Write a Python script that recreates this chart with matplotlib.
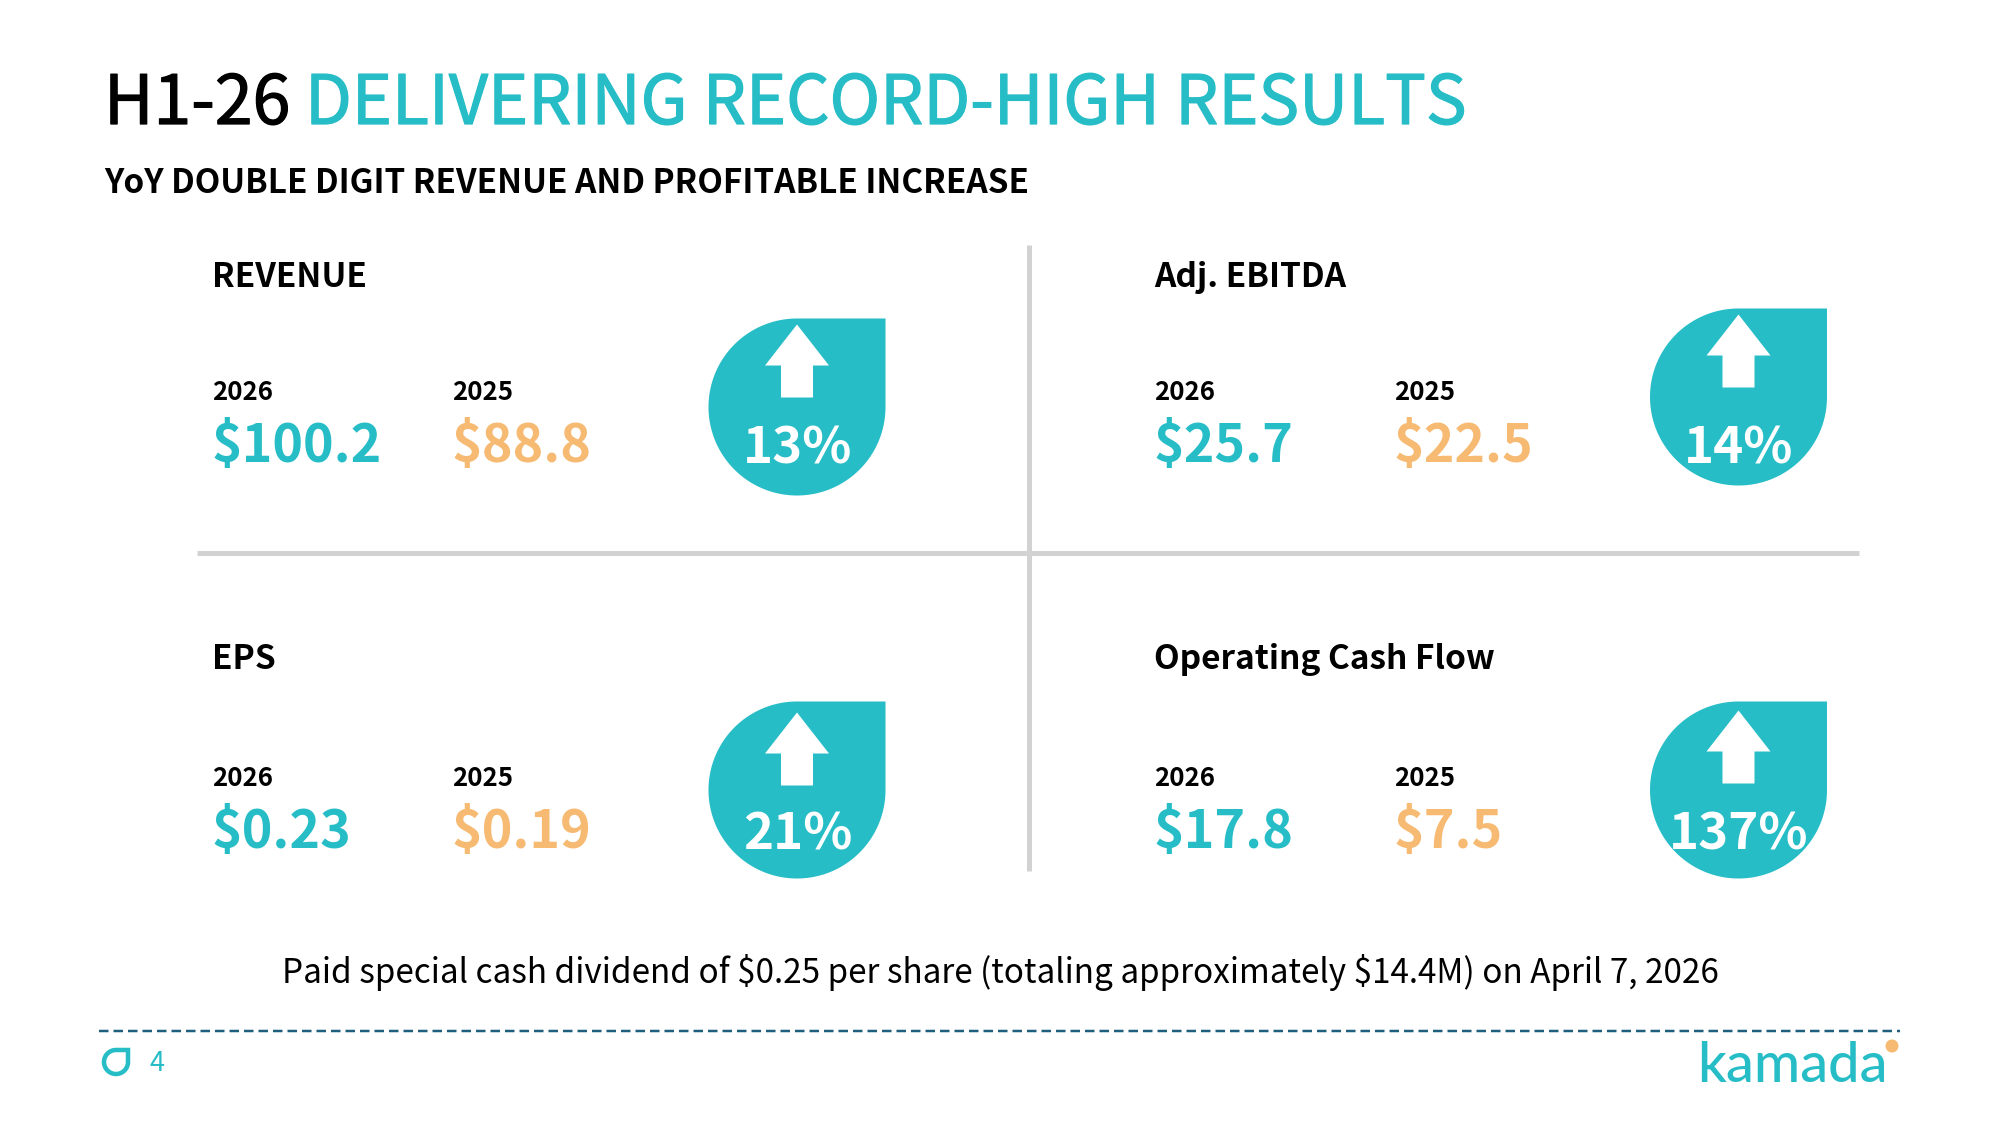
import numpy as np
import matplotlib
matplotlib.use("Agg")
import matplotlib.pyplot as plt
import matplotlib.patheffects as pe
from matplotlib.patches import Polygon, Circle

FONT = ['Noto Sans CJK SC', 'DejaVu Sans']
plt.rcParams['font.family'] = FONT

metrics = ["REVENUE", "Adj. EBITDA", "EPS", "Operating Cash Flow"]
values_2026 = ["$100.2", "$25.7", "$0.23", "$17.8"]
values_2025 = ["$88.8", "$22.5", "$0.19", "$7.5"]
growth = ["13%", "14%", "21%", "137%"]
years = ["2026", "2025"]

TEAL = "#26BDC7"
ORANGE = "#F6BA72"
BLACK = "#000000"
GREY = "#D2D2D2"
DASH = "#1F5F7E"

# layout, in reference pixels: label baseline, year baseline, value baseline
col_x = [(212, 452), (1154, 1394), (212, 452), (1154, 1394)]
row_y = [(287, 400, 462), (287, 400, 462), (669, 786, 848), (669, 786, 848)]
drop = [(797, 407), (1738.5, 397), (797, 790), (1738.5, 790)]
drop_text_x = [798, 1739, 798, 1739]
arrow_dy = [0, 0, 5, 3]

px = 0.72
fig = plt.figure(figsize=(20, 11.25), dpi=100, facecolor="white")
ax = fig.add_axes([0, 0, 1, 1])
ax.set_xlim(0, 2000)
ax.set_ylim(1125, 0)
ax.axis("off")


def txt(x, y, s, size_px, color=BLACK, weight="normal", ha="left", **kw):
    return ax.text(x, y, s, fontsize=size_px * px, color=color, fontweight=weight,
                   ha=ha, va="baseline", family=kw.pop("family", FONT),
                   parse_math=False, **kw)


def thick(color, w):
    return [pe.withStroke(linewidth=w, foreground=color)]


def teardrop(cx, cy, r, **kw):
    t = np.linspace(0, 1.5 * np.pi, 240)
    pts = np.column_stack([cx + r * np.cos(t), cy + r * np.sin(t)])
    pts = np.vstack([pts, [cx + r, cy - r]])
    p = Polygon(pts, closed=True, **kw)
    ax.add_patch(p)


# header
txt(104, 124, "H1-26", 68, path_effects=thick(BLACK, 0.9))
txt(305, 124, "DELIVERING RECORD-HIGH RESULTS", 68.1, TEAL, path_effects=thick(TEAL, 0.9))
txt(104, 193, "YoY DOUBLE DIGIT REVENUE AND PROFITABLE INCREASE", 33.3, weight="bold")

# separators
ax.plot([1029, 1029], [245, 871], color=GREY, lw=5 * px, solid_capstyle="butt")
ax.plot([197, 1859], [553, 553], color=GREY, lw=5 * px, solid_capstyle="butt")

# panels
for i, name in enumerate(metrics):
    x1, x2 = col_x[i]
    y0, y1, y2 = row_y[i]
    txt(x1, y0, name, 33.4, weight="bold")
    txt(x1, y1, years[0], 25.8, weight="bold")
    txt(x2, y1, years[1], 25.8, weight="bold")
    txt(x1, y2, values_2026[i], 52, TEAL, weight="bold")
    txt(x2, y2, values_2025[i], 52, ORANGE, weight="bold")

    cx, cy = drop[i]
    teardrop(cx, cy, 88.5, facecolor=TEAL, edgecolor="none")
    top = cy - 88.5 + arrow_dy[i]
    ax.add_patch(Polygon([(cx, top + 6), (cx + 32, top + 47), (cx + 16, top + 47),
                          (cx + 16, top + 79), (cx - 16, top + 79), (cx - 16, top + 47),
                          (cx - 32, top + 47)], closed=True, facecolor="white", edgecolor="none"))
    txt(drop_text_x[i], y2 + 1, growth[i], 51, "white", weight="bold", ha="center")

# footer
txt(1000, 983, "Paid special cash dividend of $0.25 per share (totaling approximately $14.4M) on April 7, 2026",
    33.3, ha="center")
ax.plot([99, 1900], [1031, 1031], color=DASH, lw=2.5 * px, dashes=(9.5 / 2.5, 5 / 2.5), dash_capstyle="butt")
teardrop(116, 1062, 12, facecolor="none", edgecolor=TEAL, lw=4.5 * px, joinstyle="miter")
txt(149, 1071, "4", 27, TEAL)
txt(1697, 1082, "kamada", 56, TEAL, family=["Lato", "DejaVu Sans"], weight=500)
ax.add_patch(Circle((1892, 1046), 6.5, facecolor=ORANGE, edgecolor="none"))

fig.savefig("out.png", dpi=100, facecolor="white")
